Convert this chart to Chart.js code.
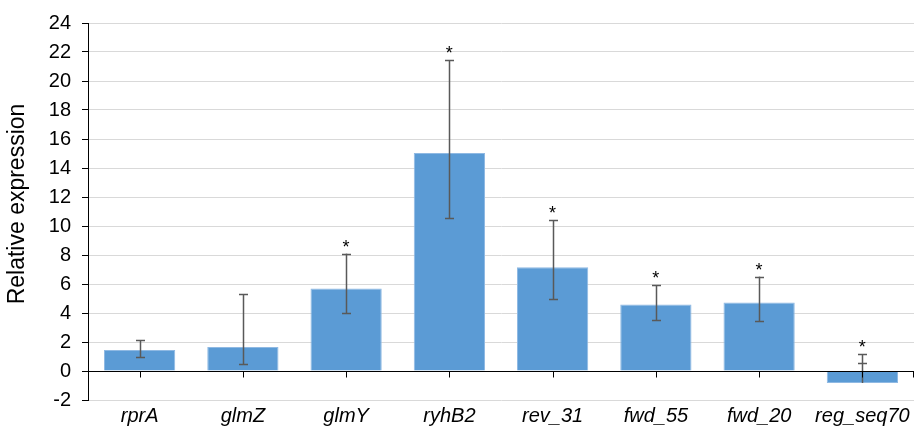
<!DOCTYPE html>
<html lang="en">
  <head>
    <meta charset="UTF-8" />
    <title>Relative expression</title>
    <script src="https://cdn.jsdelivr.net/npm/chart.js"></script>
    <style>
      html, body { margin: 0; padding: 0; background: #fff; }
      #wrap { width: 915px; height: 435px; }
    </style>
  </head>
  <body>
    <div id="wrap"><canvas id="chart"></canvas></div>
    <script>
      // data
      const genes = ['rprA', 'glmZ', 'glmY', 'ryhB2', 'rev_31', 'fwd_55', 'fwd_20', 'reg_seq70'];
      const expression = [1.44, 1.65, 5.69, 15.04, 7.15, 4.58, 4.72, -0.83];
      const errLow = [0.98, 0.5, 3.97, 10.55, 4.95, 3.53, 3.44, 0.55];
      const errHigh = [2.13, 5.3, 8.1, 21.44, 10.43, 5.91, 6.51, 1.15];
      const significant = [false, false, true, true, true, true, true, true];
      const yMin = -2, yMax = 24, yStep = 2;
      const yTitle = 'Relative expression';

      const FONT = "'Liberation Sans', Arial, Helvetica, sans-serif";

      // error bars, asterisks, zero axis with category ticks, y title
      const extras = {
        id: 'extras',
        afterDatasetsDraw(chart) {
          const { ctx, scales: { x, y }, chartArea } = chart;
          ctx.save();

          // error bars
          ctx.strokeStyle = '#595959';
          ctx.lineWidth = 1.5;
          genes.forEach((g, i) => {
            const px = Math.round(x.getPixelForValue(i)) + 0.5;
            const lo = y.getPixelForValue(Math.min(errLow[i], expression[i]));
            const hi = y.getPixelForValue(errHigh[i]);
            ctx.beginPath();
            ctx.moveTo(px, lo);
            ctx.lineTo(px, hi);
            [errLow[i], errHigh[i]].forEach(v => {
              const cy = Math.round(y.getPixelForValue(v)) + 0.5;
              ctx.moveTo(px - 4.5, cy);
              ctx.lineTo(px + 4.5, cy);
            });
            ctx.stroke();
          });

          // zero line
          const y0 = Math.round(y.getPixelForValue(0)) + 0.5;
          ctx.strokeStyle = '#000';
          ctx.lineWidth = 1;
          ctx.beginPath();
          ctx.moveTo(chartArea.left, y0);
          ctx.lineTo(chartArea.right, y0);
          genes.forEach((g, i) => {
            const px = Math.round(x.getPixelForValue(i)) + 0.5;
            ctx.moveTo(px, y0);
            ctx.lineTo(px, y0 + 6);
          });
          ctx.moveTo(chartArea.right - 0.5, y0);
          ctx.lineTo(chartArea.right - 0.5, y0 + 6);
          ctx.stroke();

          // significance marks
          ctx.fillStyle = '#000';
          ctx.font = '18px ' + FONT;
          ctx.textAlign = 'center';
          ctx.textBaseline = 'middle';
          genes.forEach((g, i) => {
            if (!significant[i]) return;
            const px = x.getPixelForValue(i);
            const py = y.getPixelForValue(errHigh[i]) - 6;
            ctx.fillText('*', px, py);
          });

          // y axis title, sitting a little above the plot centre as in the figure
          ctx.translate(18, 204);
          ctx.rotate(-Math.PI / 2);
          ctx.font = '23px ' + FONT;
          ctx.fillText(yTitle, 0, 0);
          ctx.restore();
        }
      };

      new Chart(document.getElementById('chart'), {
        type: 'bar',
        data: {
          labels: genes,
          datasets: [{
            data: expression,
            backgroundColor: '#5b9bd5',
            borderColor: '#8fb9e3',
            borderWidth: 1,
            barPercentage: 0.69,
            categoryPercentage: 1
          }]
        },
        options: {
          responsive: true,
          maintainAspectRatio: false,
          animation: false,
          devicePixelRatio: 1,
          layout: { padding: { top: 22, right: 1, bottom: 0, left: 0 } },
          plugins: {
            legend: { display: false },
            tooltip: { enabled: false }
          },
          scales: {
            x: {
              grid: { display: false, drawTicks: false },
              border: { display: false },
              ticks: {
                color: '#000',
                padding: 4,
                maxRotation: 0,
                autoSkip: false,
                font: { family: FONT, size: 20, style: 'italic' }
              },
              afterFit(scale) { scale.height = 35; }
            },
            y: {
              min: yMin,
              max: yMax,
              ticks: {
                stepSize: yStep,
                color: '#000',
                padding: 11,
                font: { family: FONT, size: 20 }
              },
              grid: {
                color: '#d9d9d9',
                lineWidth: 1,
                tickColor: '#000',
                tickLength: 6
              },
              border: { color: '#000', width: 1 },
              afterFit(scale) { scale.width = 88; }
            }
          }
        },
        plugins: [extras]
      });
    </script>
  </body>
</html>
